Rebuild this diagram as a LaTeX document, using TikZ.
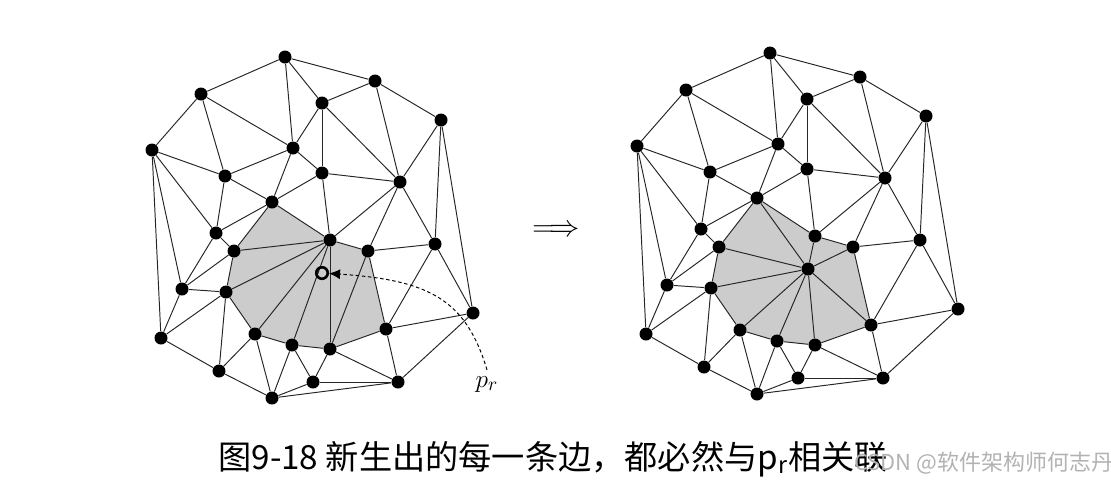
\documentclass[tikz,border=0pt]{standalone}
\usepackage{fontspec}
\newfontfamily\cjk{Noto Sans CJK SC}
\usetikzlibrary{arrows.meta,backgrounds}

\begin{document}
\begin{tikzpicture}[x=0.02cm,y=-0.02cm]

\def\EDGECOLOR{black!85}
\def\CAVITYCOLOR{gray!40}
\tikzset{
	vert/.style={circle,fill=black,inner sep=0pt,minimum size=0.26cm},
	meshedge/.style={draw=\EDGECOLOR,line width=0.55pt},
}
% the points of the triangulation
\def\VERTICES{
	\node[vert] (v1) at (285,57) {};
	\node[vert] (v2) at (201,94) {};
	\node[vert] (v3) at (375,81) {};
	\node[vert] (v4) at (322,103) {};
	\node[vert] (v5) at (152,150) {};
	\node[vert] (v6) at (293,148) {};
	\node[vert] (v7) at (441,120) {};
	\node[vert] (v8) at (225,176) {};
	\node[vert] (v9) at (322,173) {};
	\node[vert] (v10) at (400,182) {};
	\node[vert] (v11) at (272,202) {};
	\node[vert] (v12) at (216,233) {};
	\node[vert] (v13) at (234,251) {};
	\node[vert] (v14) at (330,240) {};
	\node[vert] (v15) at (368,251) {};
	\node[vert] (v16) at (435,244) {};
	\node[vert] (v17) at (182,289) {};
	\node[vert] (v18) at (226,292) {};
	\node[vert] (v19) at (473,313) {};
	\node[vert] (v20) at (386,329) {};
	\node[vert] (v21) at (255,334) {};
	\node[vert] (v22) at (161,338) {};
	\node[vert] (v23) at (292,345) {};
	\node[vert] (v24) at (330,349) {};
	\node[vert] (v25) at (219,371) {};
	\node[vert] (v26) at (313,382) {};
	\node[vert] (v27) at (398,382) {};
	\node[vert] (v28) at (272,398) {};
}
% edges outside the cavity
\def\OUTEREDGES{
	\draw[meshedge] (v1) -- (v2);
	\draw[meshedge] (v1) -- (v3);
	\draw[meshedge] (v1) -- (v4);
	\draw[meshedge] (v1) -- (v6);
	\draw[meshedge] (v2) -- (v5);
	\draw[meshedge] (v2) -- (v6);
	\draw[meshedge] (v2) -- (v8);
	\draw[meshedge] (v3) -- (v4);
	\draw[meshedge] (v3) -- (v7);
	\draw[meshedge] (v3) -- (v10);
	\draw[meshedge] (v4) -- (v6);
	\draw[meshedge] (v4) -- (v9);
	\draw[meshedge] (v4) -- (v10);
	\draw[meshedge] (v5) -- (v8);
	\draw[meshedge] (v5) -- (v12);
	\draw[meshedge] (v5) -- (v17);
	\draw[meshedge] (v5) -- (v22);
	\draw[meshedge] (v6) -- (v8);
	\draw[meshedge] (v6) -- (v9);
	\draw[meshedge] (v6) -- (v11);
	\draw[meshedge] (v7) -- (v10);
	\draw[meshedge] (v7) -- (v16);
	\draw[meshedge] (v7) -- (v19);
	\draw[meshedge] (v8) -- (v11);
	\draw[meshedge] (v8) -- (v12);
	\draw[meshedge] (v9) -- (v10);
	\draw[meshedge] (v9) -- (v11);
	\draw[meshedge] (v9) -- (v14);
	\draw[meshedge] (v10) -- (v14);
	\draw[meshedge] (v10) -- (v15);
	\draw[meshedge] (v10) -- (v16);
	\draw[meshedge] (v11) -- (v12);
	\draw[meshedge] (v11) -- (v13);
	\draw[meshedge] (v11) -- (v14);
	\draw[meshedge] (v12) -- (v13);
	\draw[meshedge] (v12) -- (v17);
	\draw[meshedge] (v13) -- (v17);
	\draw[meshedge] (v13) -- (v18);
	\draw[meshedge] (v14) -- (v15);
	\draw[meshedge] (v15) -- (v16);
	\draw[meshedge] (v15) -- (v20);
	\draw[meshedge] (v16) -- (v19);
	\draw[meshedge] (v16) -- (v20);
	\draw[meshedge] (v17) -- (v18);
	\draw[meshedge] (v17) -- (v22);
	\draw[meshedge] (v18) -- (v21);
	\draw[meshedge] (v18) -- (v22);
	\draw[meshedge] (v18) -- (v25);
	\draw[meshedge] (v19) -- (v20);
	\draw[meshedge] (v19) -- (v27);
	\draw[meshedge] (v20) -- (v24);
	\draw[meshedge] (v20) -- (v27);
	\draw[meshedge] (v21) -- (v23);
	\draw[meshedge] (v21) -- (v25);
	\draw[meshedge] (v21) -- (v28);
	\draw[meshedge] (v22) -- (v25);
	\draw[meshedge] (v23) -- (v24);
	\draw[meshedge] (v23) -- (v26);
	\draw[meshedge] (v23) -- (v28);
	\draw[meshedge] (v24) -- (v26);
	\draw[meshedge] (v24) -- (v27);
	\draw[meshedge] (v25) -- (v28);
	\draw[meshedge] (v26) -- (v27);
	\draw[meshedge] (v26) -- (v28);
	\draw[meshedge] (v27) -- (v28);
}
\def\CAVITY{
	\begin{scope}[on background layer]
	\fill[\CAVITYCOLOR] (v11.center) -- (v14.center) -- (v15.center) -- (v20.center) -- (v24.center)
		-- (v23.center) -- (v21.center) -- (v18.center) -- (v13.center) -- cycle;
	\end{scope}
}

	\useasboundingbox (0,0) rectangle (1111,488);

	% before the insertion
	\begin{scope}[name prefix=l-]
	\VERTICES
	\OUTEREDGES
	\CAVITY
	\draw[meshedge] (v14) -- (v13);
	\draw[meshedge] (v14) -- (v18);
	\draw[meshedge] (v14) -- (v21);
	\draw[meshedge] (v14) -- (v23);
	\draw[meshedge] (v14) -- (v24);
	\draw[meshedge] (v15) -- (v24);
	\node[draw,circle,line width=1.5pt,inner sep=0pt,minimum size=0.23cm] (pr) at (322,273) {};
	\node (prlabel) at (487,384) {\fontsize{15}{18}\selectfont$p_r$};
	\draw[line width=0.55pt,dash pattern=on 2pt off 1.5pt,-{Latex[length=0.22cm,width=0.2cm]}]
		(prlabel.north) .. controls (466,300) and (430,280) .. (pr);
	\end{scope}

	\node (implies) at (556,231) {\fontsize{16}{19}\selectfont$\Longrightarrow$};

	% after the insertion
	\begin{scope}[shift={(485,-4)},name prefix=r-]
	\VERTICES
	\node[vert] (p) at (323,273) {};
	\OUTEREDGES
	\CAVITY
	\draw[meshedge] (p) -- (v11);
	\draw[meshedge] (p) -- (v13);
	\draw[meshedge] (p) -- (v14);
	\draw[meshedge] (p) -- (v15);
	\draw[meshedge] (p) -- (v18);
	\draw[meshedge] (p) -- (v20);
	\draw[meshedge] (p) -- (v21);
	\draw[meshedge] (p) -- (v23);
	\draw[meshedge] (p) -- (v24);
	\end{scope}

	\node (caption) at (553,459) {\cjk\fontsize{18.9}{22}\selectfont 图9-18 新生出的每一条边，都必然与p\textsubscript{r}相关联};
	\node[anchor=west,text=black!30] (mark) at (848,463) {\cjk\fontsize{12.5}{15}\selectfont CSDN @软件架构师何志丹};

\end{tikzpicture}
\end{document}
